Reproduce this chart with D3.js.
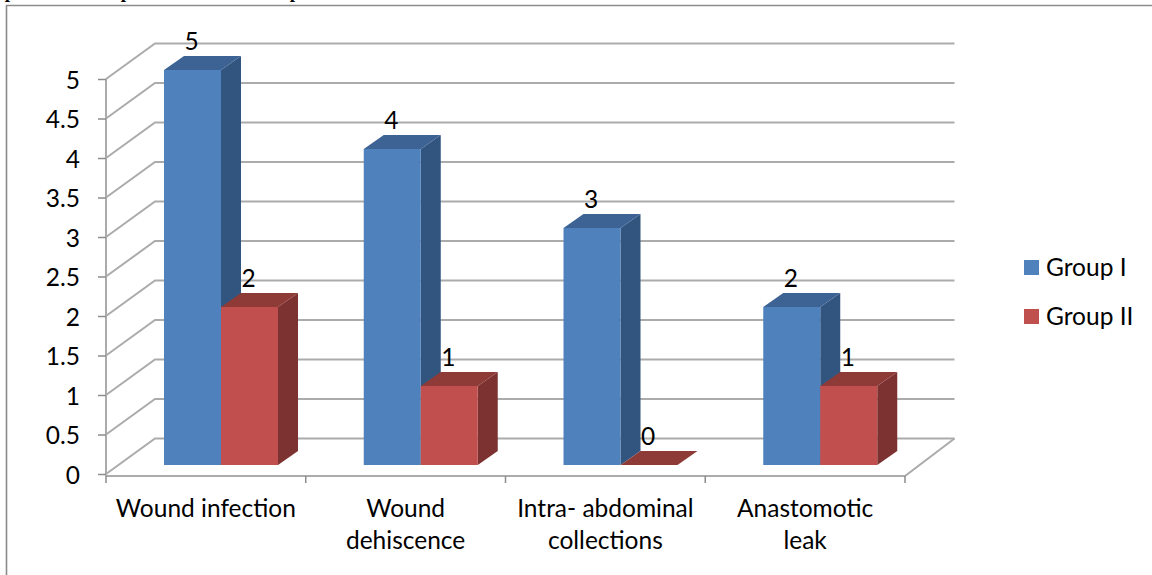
<!DOCTYPE html>
<html>
<head>
<meta charset="utf-8">
<script src="https://cdn.jsdelivr.net/npm/d3@7"></script>
<style>
  html, body { margin: 0; padding: 0; background: #fff; overflow: hidden; }
  svg { display: block; }
  text { font-family: Lato, "Open Sans", sans-serif; font-size: 24.5px; fill: #000; }
</style>
</head>
<body>
<svg id="chart" width="1152" height="575"></svg>
<script>
const categories = [['Wound infection'], ['Wound', 'dehiscence'], ['Intra- abdominal', 'collections'], ['Anastomotic', 'leak']]
const groups = ['Group I', 'Group II']
const groupOne = [5, 4, 3, 2]
const groupTwo = [2, 1, 0, 1]
const yTicks = [0, 0.5, 1, 1.5, 2, 2.5, 3, 3.5, 4, 4.5, 5]
const clippedCaption = [10, 126, 295]

const colors = {
  'Group I': { front: '#4f81bd', side: '#335580', top: '#3c6294' },
  'Group II': { front: '#c0504d', side: '#7d3230', top: '#8e3a38' },
}
const gridColor = '#ababab'

const svg = d3.select('#chart')
const x = d3.scaleBand().domain(d3.range(categories.length)).range([106, 905])
const xInner = d3.scaleBand().domain(groups).range([58, 172])
const y = d3.scaleLinear().domain([0, 5]).range([474, 79])

const wall = { dx: 49, dy: -35.5 }   // back wall offset
const depth = { dx: 20, dy: -14 }    // bar depth
const barLift = 9                    // bars stand a bit in front of the wall

const soft = svg.append('defs').append('filter').attr('id', 'soft')
soft.append('feGaussianBlur').attr('stdDeviation', 0.6)

// Bits of the cropped caption above the frame
svg.append('g').selectAll('text').data(clippedCaption).join('text')
  .attr('x', d => d).attr('y', -2).attr('text-anchor', 'middle')
  .style('font-family', '"Liberation Serif", serif').style('font-weight', 700).style('font-size', '19px')
  .text('p')

// Frame, cropped by the right and bottom edges
svg.append('path').attr('d', 'M6.5,575V5.5H1152').attr('fill', 'none').attr('stroke', '#8c8c8c').attr('stroke-width', 1.6)

const plot = svg.append('g').attr('filter', 'url(#soft)')

// Grid lines on the back wall and the side wall
const grid = plot.append('g').attr('fill', 'none').attr('stroke', gridColor).attr('stroke-width', 2)
yTicks.forEach(t => {
  const yy = y(t)
  grid.append('path')
    .attr('d', `M${x.range()[0]},${yy}L${x.range()[0] + wall.dx},${yy + wall.dy}H${x.range()[1] + wall.dx + 0.5}`)
})
grid.append('path')
  .attr('d', `M${x.range()[0]},476H${x.range()[1]}L${x.range()[1] + wall.dx + 0.5},${y(0) + wall.dy}`)

// Axes
const yAxis = plot.append('g').attr('transform', `translate(${x.range()[0]},0)`)
  .call(d3.axisLeft(y).tickValues(yTicks).tickFormat(d => d).tickSize(8).tickPadding(18))
yAxis.select('.domain').attr('d', `M0,${y(5)}V476`).attr('stroke', gridColor).attr('stroke-width', 2)
yAxis.selectAll('.tick line').attr('stroke', '#8c8c8c').attr('stroke-width', 1.5)
yAxis.selectAll('.tick text').remove()
yAxis.attr('font-family', null).attr('font-size', null)

// Tick labels sit outside the blurred group so they stay readable
svg.append('g').attr('text-anchor', 'end').selectAll('text').data(yTicks).join('text')
  .attr('x', x.range()[0] - 26).attr('y', d => y(d) + 1).attr('dy', '0.36em')
  .text(d => d)

const xTicks = plot.append('g').attr('stroke', '#8c8c8c').attr('stroke-width', 1.5)
d3.range(categories.length + 1).forEach(i => {
  const xx = x.range()[0] + i * x.step()
  xTicks.append('line').attr('x1', xx).attr('x2', xx).attr('y1', 476).attr('y2', 483)
})

// Bars, back to front inside each category
const seriesValues = { 'Group I': groupOne, 'Group II': groupTwo }
const bars = plot.append('g')
categories.forEach((_, i) => {
  groups.forEach(g => {
    const v = seriesValues[g][i]
    const x0 = x(i) + xInner(g)
    const x1 = x0 + xInner.bandwidth()
    const top = y(v) - barLift
    const bottom = y(0) - barLift
    const c = colors[g]
    bars.append('path').attr('fill', c.side)
      .attr('d', `M${x1},${top}L${x1 + depth.dx},${top + depth.dy}V${bottom + depth.dy}L${x1},${bottom}Z`)
    bars.append('path').attr('fill', c.top)
      .attr('d', `M${x0},${top}L${x0 + depth.dx},${top + depth.dy}H${x1 + depth.dx}L${x1},${top}Z`)
    bars.append('rect').attr('fill', c.front)
      .attr('x', x0).attr('y', top).attr('width', x1 - x0).attr('height', bottom - top)
  })
})

// Data labels
const labels = svg.append('g').attr('text-anchor', 'middle')
categories.forEach((_, i) => {
  groups.forEach(g => {
    const v = seriesValues[g][i]
    labels.append('text')
      .attr('x', x(i) + xInner(g) + xInner.bandwidth() / 2 - 1)
      .attr('y', y(v) - barLift - 20)
      .text(v)
  })
})

// Category labels
const catLabels = svg.append('g').attr('text-anchor', 'middle')
categories.forEach((lines, i) => {
  const t = catLabels.append('text').attr('x', x(i) + x.bandwidth() / 2).attr('y', 517)
  lines.forEach((line, k) => {
    t.append('tspan').attr('x', x(i) + x.bandwidth() / 2).attr('dy', k ? 32 : 0).text(line)
  })
})

// Legend
const legend = svg.append('g')
const legendY = d3.scalePoint().domain(groups).range([260, 309])
groups.forEach(g => {
  legend.append('rect').attr('x', 1024).attr('y', legendY(g)).attr('width', 15).attr('height', 15).attr('fill', colors[g].front)
  legend.append('text').attr('x', 1046).attr('y', legendY(g) + 16).text(g)
})
</script>
</body>
</html>
